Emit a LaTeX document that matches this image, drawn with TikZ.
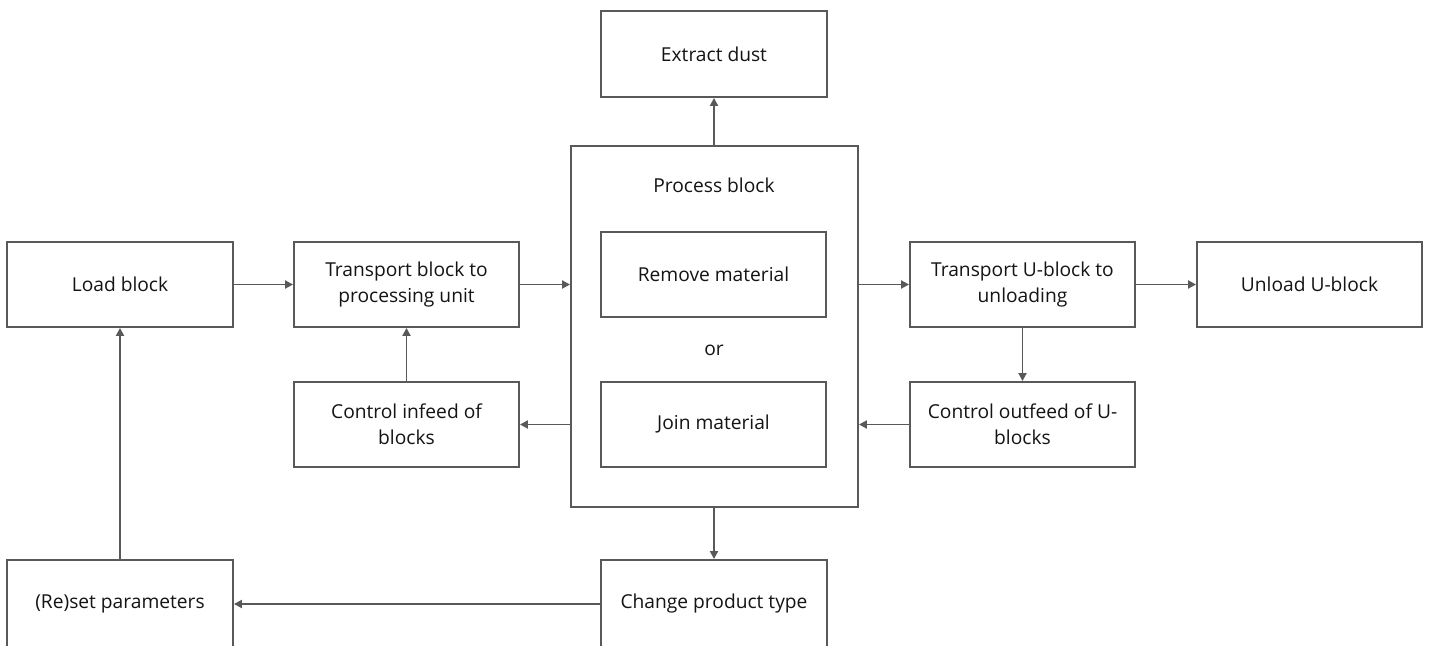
\documentclass[tikz,border=0pt]{standalone}
\usepackage{fontspec}
\setmainfont{Open Sans}
\usetikzlibrary{arrows.meta}
\definecolor{linegray}{HTML}{595959}
\definecolor{txt}{HTML}{141414}
\begin{document}
\begin{tikzpicture}[x=1pt,y=-1pt,
  box/.style={draw=linegray,line width=1.9pt,fill=white,minimum width=226pt,minimum height=86pt,inner sep=0pt,align=center,text=txt,font=\fontsize{19.2}{26}\selectfont},
  lbl/.style={text=txt,font=\fontsize{19.2}{26}\selectfont,inner sep=0pt},
  arr/.style={draw=linegray,line width=1.9pt,-{Triangle[length=8pt,width=8pt]}}]
\clip (0,0) rectangle (1429,645);
\fill[white] (0,0) rectangle (1429,645);
\node[box,minimum width=287pt,minimum height=361pt] (proc) at (714.5,326.5) {};
\node[lbl] (proclabel) at (714,185) {Process block};
\node[box] (dust) at (714,54) {Extract dust};
\node[box,minimum width=225pt,minimum height=85pt] (remove) at (713.5,274.5) {Remove material};
\node[lbl] (or) at (714,350) {or};
\node[box,minimum width=225pt,minimum height=85pt] (join) at (713.5,424.5) {Join material};
\node[box,minimum height=85pt] (load) at (120,284.5) {Load block};
\node[box,minimum width=225pt,minimum height=85pt] (tb) at (406.5,284.5) {Transport block to\\processing unit};
\node[box,minimum width=225pt,minimum height=85pt] (cin) at (406.5,424.5) {Control infeed of\\blocks};
\node[box,minimum width=225pt,minimum height=85pt] (tu) at (1022.5,284.5) {Transport U-block to\\unloading};
\node[box,minimum width=225pt,minimum height=85pt] (unload) at (1309.5,284.5) {Unload U-block};
\node[box,minimum width=225pt,minimum height=85pt] (cout) at (1022.5,424.5) {Control outfeed of U-\\blocks};
\node[box,minimum height=88pt] (reset) at (120,604) {(Re)set parameters};
\node[box,minimum height=88pt] (change) at (714,604) {Change product type};
\draw[arr] (load.east) -- (tb.west);
\draw[arr] (tb.east) -- (tb.east -| proc.west);
\draw[arr] (tu.east -| proc.east) -- (tu.west);
\draw[arr] (tu.east) -- (unload.west);
\draw[arr] (tu.south) -- (cout.north);
\draw[arr] (cout.west) -- (cout.west -| proc.east);
\draw[arr] (cin.east -| proc.west) -- (cin.east);
\draw[arr] (cin.north) -- (tb.south);
\draw[arr] (dust.south |- proc.north) -- (dust.south);
\draw[arr] (change.north |- proc.south) -- (change.north);
\draw[arr] (change.west) -- (reset.east);
\draw[arr] (reset.north) -- (load.south);
\end{tikzpicture}
\end{document}
